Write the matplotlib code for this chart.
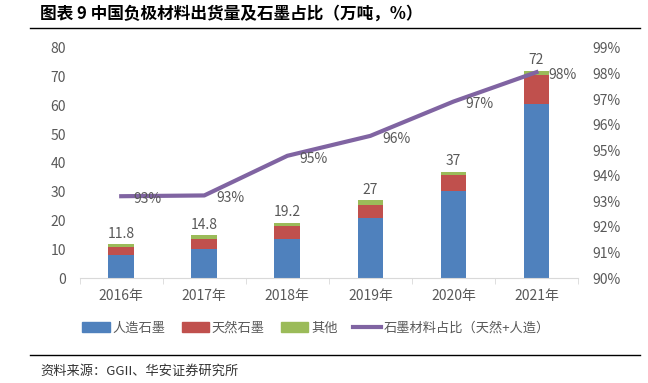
# 中国负极材料出货量及石墨占比
import numpy as np
import matplotlib.pyplot as plt
from matplotlib.lines import Line2D
from matplotlib.patches import Patch

plt.rcParams['font.family'] = ['Noto Sans CJK SC', 'DejaVu Sans']

# --- 数据 ---
years = ['2016年', '2017年', '2018年', '2019年', '2020年', '2021年']
artificial = [7.9, 10.0, 13.5, 21.0, 30.2, 60.5]   # 人造石墨
natural = [3.0, 3.6, 4.5, 4.5, 5.5, 10.2]          # 天然石墨
other = [0.9, 1.2, 1.2, 1.5, 1.3, 1.3]             # 其他
totals = ['11.8', '14.8', '19.2', '27', '37', '72']
share = [93.2, 93.23, 94.78, 95.56, 96.9, 98.05]   # 石墨占比 %
share_labels = ['93%', '93%', '95%', '96%', '97%', '98%']

c_blue = '#4F81BD'
c_red = '#C0504D'
c_green = '#9BBB59'
c_purple = '#8064A2'
c_text = '#595959'

fig = plt.figure(figsize=(6.48, 3.83), dpi=100)
ax = fig.add_axes([0.123, 0.274, 0.769, 0.601])
x = np.arange(len(years))
w = 0.31

ax.bar(x, artificial, w, color=c_blue, zorder=2)
ax.bar(x, natural, w, bottom=artificial, color=c_red, zorder=2)
bot2 = np.array(artificial) + np.array(natural)
ax.bar(x, other, w, bottom=bot2, color=c_green, zorder=2)
tops = bot2 + np.array(other)
for i, t in enumerate(totals):
    ax.text(x[i], tops[i] + 1.2, t, ha='center', va='bottom', fontsize=10, color=c_text)

ax.set_xlim(-0.5, len(years) - 0.5)
ax.set_ylim(0, 80)
ax.set_yticks(range(0, 81, 10))
ax.set_xticks(x)
ax.set_xticklabels(years)
ax.set_xticks(np.arange(-0.5, len(years)), minor=True)
ax.tick_params(axis='x', which='major', length=0, pad=8, labelsize=10, labelcolor=c_text)
ax.tick_params(axis='x', which='minor', length=4, color='#D9D9D9')
ax.tick_params(axis='y', length=0, labelsize=10, labelcolor=c_text, pad=10)
for s in ['top', 'right', 'left']:
    ax.spines[s].set_visible(False)
ax.spines['bottom'].set_color('#D9D9D9')

ax2 = ax.twinx()
ax2.plot(x, share, color=c_purple, lw=3, zorder=3)
for i, lab in enumerate(share_labels):
    ax2.annotate(lab, (x[i], share[i]), xytext=(19, -2), textcoords='offset points',
                 ha='center', va='center', fontsize=10, color=c_text)
ax2.set_ylim(90, 99)
ax2.set_yticks(range(90, 100))
ax2.set_yticklabels([f'{v}%' for v in range(90, 100)])
ax2.tick_params(axis='y', length=0, labelsize=10, labelcolor=c_text, pad=10)
for s in ['top', 'right', 'left', 'bottom']:
    ax2.spines[s].set_visible(False)

handles = [Patch(color=c_blue), Patch(color=c_red), Patch(color=c_green),
           Line2D([0], [0], color=c_purple, lw=3)]
names = ['人造石墨', '天然石墨', '其他', '石墨材料占比（天然+人造）']
fig.legend(handles, names, loc='center', bbox_to_anchor=(0.488, 0.143), ncol=4,
           frameon=False, fontsize=9.5, labelcolor=c_text, handlelength=2.1,
           handleheight=0.7, handletextpad=0.2, columnspacing=1.2)

fig.text(0.062, 0.963, '图表 9 中国负极材料出货量及石墨占比（万吨，%）',
         fontsize=12, fontweight='bold', va='center', ha='left')
fig.add_artist(Line2D([0.046, 0.988], [0.927, 0.927], color='black', lw=1))
fig.add_artist(Line2D([0.046, 0.988], [0.073, 0.073], color='black', lw=1))
fig.text(0.062, 0.031, '资料来源：GGII、华安证券研究所', fontsize=9.5, color='#333333',
         va='center', ha='left')

fig.savefig('out.png', dpi=100)
